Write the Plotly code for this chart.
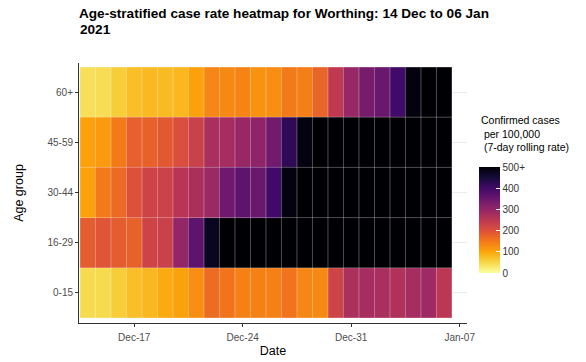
import pandas as pd
import plotly.graph_objects as go

# ---- data ----
age_groups = ["0-15", "16-29", "30-44", "45-59", "60+"]
dates = pd.date_range("2020-12-14", "2021-01-06", freq="D")

rate_0_15 = [45, 45, 60, 75, 82, 95, 105, 125, 165, 155, 140, 140,
             140, 155, 135, 132, 225, 270, 278, 275, 265, 278, 288, 250]
rate_16_29 = [185, 195, 185, 178, 225, 230, 300, 365, 475, 540, 580, 610,
              640, 660, 690, 700, 720, 760, 780, 800, 790, 770, 750, 730]
rate_30_44 = [105, 148, 168, 200, 225, 228, 255, 272, 290, 345, 365, 350,
              400, 490, 530, 560, 600, 640, 680, 700, 710, 690, 670, 650]
rate_45_59 = [105, 112, 148, 180, 178, 190, 205, 230, 275, 278, 295, 305,
              340, 420, 490, 530, 570, 610, 650, 680, 690, 670, 650, 630]
rate_60p = [40, 42, 60, 75, 80, 78, 82, 105, 135, 132, 137, 120,
            125, 148, 143, 175, 245, 295, 335, 350, 400, 490, 560, 620]

z = [rate_0_15, rate_16_29, rate_30_44, rate_45_59, rate_60p]

tick_dates = ["2020-12-17", "2020-12-24", "2020-12-31", "2021-01-07"]
cbar_vals = [0, 100, 200, 300, 400, 500]
cbar_text = ["0", "100", "200", "300", "400", "500+"]

title_line1 = "Age-stratified case rate heatmap for Worthing: 14 Dec to 06 Jan"
title_line2 = "2021"

inferno_r = [
    [0.0, "#fcffa4"], [0.1, "#f6d746"], [0.2, "#fca50a"], [0.3, "#f37819"],
    [0.4, "#dd513a"], [0.5, "#bc3754"], [0.6, "#932667"], [0.7, "#6a176e"],
    [0.8, "#420a68"], [0.9, "#160b39"], [1.0, "#000004"],
]

FONT = "Liberation Sans, Arial, sans-serif"
W, H = 586, 362
L, R, T, B = 79, 119, 63, 39
PH = H - T - B

fig = go.Figure(
    go.Heatmap(
        x=dates,
        y=age_groups,
        z=z,
        zmin=0,
        zmax=500,
        colorscale=inferno_r,
        colorbar=dict(
            x=1.031, xanchor="left",
            y=0.396, yanchor="middle",
            lenmode="pixels", len=106,
            thickness=21,
            outlinewidth=0,
            ypad=0, xpad=0,
            tickvals=cbar_vals,
            ticktext=cbar_text,
            ticks="inside", ticklen=4, tickcolor="white",
            tickfont=dict(family=FONT, size=10, color="#333333"),
        ),
        hovertemplate="%{x|%d %b}<br>%{y}: %{z}<extra></extra>",
    )
)

# thin translucent cell borders, derived from the data grid
half = pd.Timedelta(hours=12)
shapes = []
for d in list(dates) + [dates[-1] + pd.Timedelta(days=1)]:
    xb = d - half
    shapes.append(dict(type="line", xref="x", yref="y", x0=xb, x1=xb,
                       y0=-0.5, y1=len(age_groups) - 0.5,
                       line=dict(color="rgba(255,255,255,0.3)", width=1)))
for k in range(len(age_groups) + 1):
    shapes.append(dict(type="line", xref="x", yref="y",
                       x0=dates[0] - half, x1=dates[-1] + half,
                       y0=k - 0.5, y1=k - 0.5,
                       line=dict(color="rgba(255,255,255,0.3)", width=1)))

x_start = dates[0] - pd.Timedelta(hours=13.5)
x_end = dates[-1] + pd.Timedelta(hours=35.3)

fig.update_layout(
    width=W, height=H,
    margin=dict(l=L, r=R, t=T, b=B, autoexpand=False),
    paper_bgcolor="white",
    plot_bgcolor="white",
    font=dict(family=FONT, color="#000000"),
    title=dict(
        text="<b>" + title_line1 + "</b>",
        x=79 / W, xanchor="left", xref="container",
        y=1 - 8 / H, yanchor="top", yref="container",
        font=dict(family=FONT, size=13.6, color="#000000"),
    ),
    shapes=shapes,
    annotations=[
        dict(
            text="<b>" + title_line2 + "</b>",
            xref="paper", yref="paper", x=0, y=(H - B - 20) / PH,
            xanchor="left", yanchor="top", align="left", showarrow=False,
            xshift=-1,
            font=dict(family=FONT, size=13.6, color="#000000"),
        ),
        dict(
            text="Confirmed cases<br>\u00a0per 100,000<br>\u00a0(7-day rolling rate)",
            xref="paper", yref="paper", x=1.031, y=0.812,
            xanchor="left", yanchor="top", align="left", showarrow=False,
            font=dict(family=FONT, size=10.5, color="#000000"),
        ),
    ],
)

fig.update_xaxes(
    automargin=False,
    range=[x_start, x_end],
    tickvals=tick_dates,
    tickformat="%b-%d",
    ticks="outside", ticklen=3, tickcolor="#333333",
    ticklabelstandoff=2,
    tickfont=dict(family=FONT, size=10, color="#4d4d4d"),
    showline=True, linecolor="#333333", linewidth=1,
    showgrid=False, zeroline=False,
    title=dict(text="Date", font=dict(family=FONT, size=12.5, color="#000000"), standoff=4),
)
fig.update_yaxes(
    automargin=False,
    type="category",
    categoryorder="array", categoryarray=age_groups,
    range=[-0.6, 4.58],
    ticks="outside", ticklen=3, tickcolor="#333333",
    tickfont=dict(family=FONT, size=10, color="#4d4d4d"),
    showline=True, linecolor="#333333", linewidth=1,
    showgrid=True, gridcolor="#ebebeb", gridwidth=1, zeroline=False,
    title=dict(text="Age group", font=dict(family=FONT, size=12.5, color="#000000"), standoff=21),
)

fig.write_html(
    "out.html",
    config={"displayModeBar": False},
    post_script="document.body.style.margin='0';document.body.style.overflow='hidden';",
)
